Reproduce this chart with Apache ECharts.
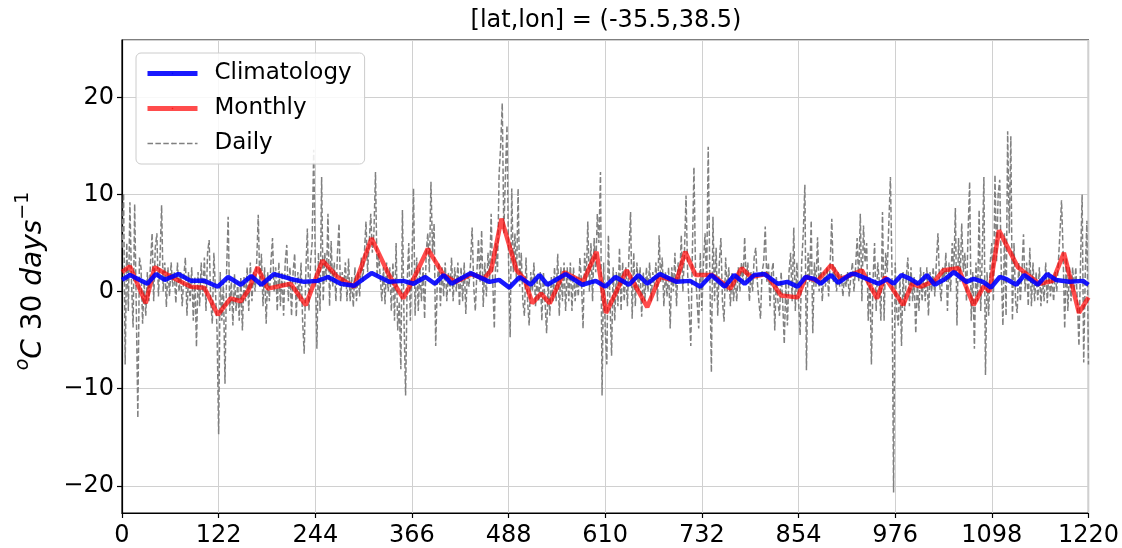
<!DOCTYPE html>
<html>
<head>
<meta charset="utf-8">
<script src="https://cdn.jsdelivr.net/npm/echarts@6/dist/echarts.min.js"></script>
<style>
html,body{margin:0;padding:0;background:#fff;}
#chart{width:1122px;height:548px;}
</style>
</head>
<body>
<div id="chart"></div>
<script>
// ---------- data ----------
const titleText = '[lat,lon] = (-35.5,38.5)';
const seriesNames = ['Climatology', 'Monthly', 'Daily'];
const xTicks = [0, 122, 244, 366, 488, 610, 732, 854, 976, 1098, 1220];

// Climatology: [day, value] vertices
const climDays = [0,10,32,43,54,71,87,104,121,134,150,163,176,192,213,230,247,260,276,293,315,337,355,368,383,395,406,416,440,464,476,489,502,516,527,537,560,581,598,610,623,640,652,663,679,700,717,730,744,761,773,786,798,811,828,840,853,863,874,882,895,904,920,926,955,966,974,984,995,1005,1016,1026,1039,1050,1066,1075,1087,1097,1108,1116,1129,1139,1156,1168,1179,1196,1213,1220];
const climValues = [1.2,1.7,0.8,1.8,1.2,1.8,1.1,1.1,0.5,1.5,0.7,1.6,0.7,1.8,1.3,1.0,1.1,1.5,0.8,0.6,1.9,1.0,1.1,0.8,1.5,0.8,1.7,0.8,1.9,1.0,1.2,0.4,1.5,0.7,1.7,0.7,1.8,0.7,1.1,0.5,1.5,0.7,1.7,0.8,1.8,1.0,1.1,0.5,1.7,0.5,1.7,0.8,1.7,1.8,0.8,1.0,0.5,1.5,1.3,0.8,1.7,0.9,1.8,1.8,0.8,1.3,0.8,1.7,1.3,0.8,1.7,0.7,1.3,2.0,1.0,1.3,1.0,0.4,1.5,1.3,0.7,1.7,0.7,1.8,1.2,1.0,1.1,0.7];

// Monthly: [day, value] vertices
const monthlyDays = [0,10,30,41,60,87,104,121,137,150,160,171,184,213,232,253,272,293,315,337,355,368,386,406,421,442,457,466,479,498,508,518,529,540,558,582,599,611,637,663,679,700,711,724,745,768,782,794,813,832,853,863,878,895,907,920,934,953,963,986,997,1008,1026,1037,1056,1075,1088,1095,1107,1131,1158,1175,1189,1208,1220];
const monthlyValues = [2.0,2.6,-1.2,2.5,1.6,0.5,0.4,-2.4,-0.7,-1.0,0.2,2.5,0.3,0.8,-1.4,3.2,1.5,0.5,5.5,1.7,-0.7,1.3,4.4,1.7,1.0,1.8,1.3,2.2,7.5,2.2,1.3,-1.2,-0.2,-1.2,2.0,1.0,4.1,-2.2,2.2,-1.6,1.5,1.1,4.1,1.7,1.7,0.3,2.4,1.5,1.8,-0.4,-0.6,1.5,1.1,2.7,1.3,1.7,2.2,-0.7,1.5,-1.4,0.8,0.5,1.1,2.2,2.4,-1.4,0.6,0.0,6.3,2.5,0.8,1.1,4.0,-2.2,-0.6];

// Daily: one value every dailyStep days starting at day 0 (20 values per row = 40 days)
const dailyStep = 2;
const dailyValues = [
  4.5,10.1,-7.5,5.0,-2.0,9.2,1.0,-3.7,9.0,-1.5,-13.0,3.5,2.5,-3.3,1.0,-2.5,2.0,-1.0,3.0,6.0,
  -1.0,4.5,6.0,-0.5,3.5,8.9,0.0,3.0,-1.6,2.5,-0.5,3.0,0.5,2.0,-1.2,3.0,0.0,2.0,-1.5,1.5,
  3.5,-2.5,2.0,-1.0,2.5,-3.0,1.5,-5.7,2.0,-1.5,3.0,-0.5,3.5,-2.0,4.0,5.3,-1.0,-3.3,4.0,0.0,
  -4.0,-14.7,2.0,-3.0,1.0,-9.5,2.0,7.7,-2.0,1.0,-3.5,1.8,-2.0,1.0,-3.0,1.5,-4.0,1.5,-1.0,2.5,
  -2.0,3.0,-1.0,2.0,0.0,3.0,7.9,0.5,3.9,-1.5,2.5,-3.3,2.0,-1.0,3.0,5.5,0.0,2.5,-2.0,3.0,
  -1.5,2.0,-2.5,3.0,4.8,-1.0,2.5,-2.5,2.0,3.9,-2.6,2.0,-1.0,3.0,-3.0,-6.4,2.0,6.5,-2.0,3.0,
  5.0,14.6,3.0,-5.9,4.0,-2.0,11.8,-1.0,4.0,1.0,8.0,-1.5,5.2,0.5,3.0,-1.0,4.0,7.0,-1.0,2.0,
  0.5,3.0,-1.0,3.4,-1.0,1.5,-1.6,2.5,-1.0,2.0,-0.5,3.5,1.0,4.0,7.2,2.0,5.0,8.0,4.0,6.0,
  12.3,1.5,4.0,3.8,-1.0,2.5,-1.3,3.0,0.0,2.5,-2.0,3.0,-3.0,5.0,-4.0,-1.0,-8.0,8.4,-3.0,-10.7,
  1.0,5.0,-3.0,3.0,10.6,-2.5,3.5,-2.0,2.5,-1.0,2.5,-2.8,4.0,6.0,2.0,11.3,4.0,7.0,-5.6,1.0,
  3.0,-1.5,2.5,-0.5,3.0,-1.0,2.0,0.0,3.5,-1.0,2.5,0.0,3.0,-1.5,2.5,-1.0,3.0,-2.3,2.0,0.5,
  3.0,6.6,0.5,-2.0,2.0,5.4,1.0,6.3,-1.6,3.0,-0.5,4.0,1.0,8.0,1.0,-3.8,5.0,2.0,12.0,15.0,
  19.4,6.0,12.0,17.1,3.0,-4.7,10.6,2.0,6.0,1.0,10.6,0.5,4.0,-1.0,-2.5,3.5,-1.0,-3.5,2.0,0.0,
  3.0,-1.5,1.5,-1.0,2.0,-3.0,2.0,-1.0,-4.3,1.0,-2.5,1.5,-1.0,2.5,-1.0,3.9,-2.5,2.5,-1.0,3.0,
  -2.0,2.5,-1.0,3.0,-2.0,2.5,-1.0,1.5,-0.5,3.5,1.0,-3.8,4.0,1.0,7.2,0.0,5.0,-1.0,5.5,2.0,
  8.0,5.0,12.3,-10.7,3.0,-4.0,-7.5,5.8,-1.0,-6.6,2.5,-3.0,2.0,-1.5,4.5,-2.0,3.0,-1.0,2.5,-1.5,
  4.0,8.2,-2.8,4.0,-1.5,3.0,0.0,2.5,-2.6,2.0,-1.0,2.5,0.0,3.0,-1.0,2.0,0.5,3.0,-1.0,5.8,
  1.0,3.5,-1.5,2.0,-0.5,2.5,-3.8,2.5,0.0,4.0,-1.5,3.0,1.0,5.8,0.0,4.0,9.9,2.0,-2.0,-5.6,
  4.0,12.8,2.0,-1.0,-3.8,4.0,-2.0,3.0,6.0,1.0,14.9,2.0,-8.3,7.7,-1.0,4.5,-2.5,3.0,5.5,-1.0,
  -3.1,3.5,0.0,2.5,-1.5,2.0,-1.0,1.5,-1.0,2.5,0.0,3.0,1.0,5.6,1.0,3.0,-1.0,2.0,0.0,3.5,
  4.5,1.0,-1.0,-2.8,2.0,3.0,6.7,1.0,3.0,-1.5,2.0,3.0,-4.0,1.5,-1.0,-2.5,2.0,-1.0,-5.4,1.0,
  -3.5,2.0,4.0,-1.0,6.6,-2.0,3.0,-1.0,-4.5,3.0,6.0,11.0,-8.1,4.0,1.0,7.3,-4.3,3.0,0.5,5.6,
  0.0,2.5,-1.0,2.0,0.5,2.5,-0.5,3.0,7.5,1.0,2.5,0.0,2.0,0.5,1.8,-0.5,1.5,0.5,2.0,-0.5,
  1.5,3.0,0.0,2.5,5.5,1.0,8.0,-1.0,6.8,3.0,5.0,-3.0,2.0,-7.5,1.0,5.0,-2.0,3.0,1.0,-3.0,
  8.2,-3.0,4.0,2.0,7.0,11.8,2.0,-20.7,3.0,-2.0,-3.5,1.5,-5.6,2.0,-2.0,1.5,3.5,-1.5,2.5,-1.0,
  1.5,-4.3,1.0,-2.0,2.5,-1.0,2.0,-1.0,2.5,-2.5,2.0,0.0,2.5,-0.5,3.0,6.0,1.0,-1.0,2.5,1.0,
  4.0,-2.0,3.0,0.0,5.0,2.0,8.6,-3.5,5.5,1.0,7.0,2.0,4.0,-1.0,6.0,11.3,-3.0,2.0,-5.9,3.0,
  -1.0,8.4,-2.0,4.0,11.8,-8.6,2.0,-2.5,3.0,5.0,-1.0,12.0,3.0,10.0,11.5,2.0,-3.5,6.0,-2.5,16.5,
  6.0,16.0,-3.0,5.0,-1.0,-2.2,3.0,-1.0,2.0,5.9,0.0,3.0,-1.5,4.5,-1.5,3.0,-1.0,2.0,-0.9,2.5,
  -1.5,1.5,-1.0,3.0,-1.2,2.0,-0.5,1.5,-1.0,2.0,0.0,3.0,6.0,9.4,4.0,-3.8,3.5,-2.0,2.5,-1.0,
  2.5,0.0,2.5,-1.0,-5.6,3.0,10.0,-7.3,2.0,7.3,-7.5
];

// ---------- build ----------
const FONT = 'DejaVu Sans';
const pairs = (xs, ys) => xs.map((x, i) => [x, ys[i]]);
const dailyData = dailyValues.map((v, i) => [i * dailyStep, v]);
const minusFmt = v => (v < 0 ? '\u2212' + Math.abs(v) : String(v));

const chart = echarts.init(document.getElementById('chart'), null, {renderer: 'canvas'});
chart.setOption({
  animation: false,
  backgroundColor: '#ffffff',
  grid: {left: 122, right: 32, top: 40, bottom: 35, show: true, borderColor: '#000', borderWidth: 1.2, backgroundColor: 'transparent'},
  xAxis: {
    type: 'value', min: 0, max: 1220, interval: 122,
    axisLine: {show: true, onZero: false, lineStyle: {color: '#000', width: 1.2}},
    axisTick: {show: true, length: 5, lineStyle: {color: '#000', width: 1.2}},
    axisLabel: {fontFamily: FONT, fontSize: 24, color: '#000', margin: 11, formatter: minusFmt},
    splitLine: {show: true, lineStyle: {color: '#d0d0d0', width: 1}}
  },
  yAxis: {
    type: 'value', min: -22.8, max: 25.9, splitNumber: 5,
    axisLine: {show: true, onZero: false, lineStyle: {color: '#000', width: 1.2}},
    axisTick: {show: true, length: 5, lineStyle: {color: '#000', width: 1.2}},
    axisLabel: {fontFamily: FONT, fontSize: 24, color: '#000', margin: 8, showMinLabel: false, showMaxLabel: false, formatter: minusFmt},
    splitLine: {show: true, lineStyle: {color: '#d0d0d0', width: 1}}
  },
  legend: {
    orient: 'vertical', left: 136, top: 53,
    data: [
      {name: seriesNames[0], lineStyle: {width: 5}},
      {name: seriesNames[1], lineStyle: {width: 5}},
      {name: seriesNames[2], lineStyle: {width: 1.5}}
    ],
    itemWidth: 50, itemHeight: 2, itemGap: 12,
    padding: [9, 13, 9, 9],
    backgroundColor: 'rgba(255,255,255,0.85)',
    borderColor: '#cccccc', borderWidth: 1, borderRadius: 5,
    textStyle: {fontFamily: FONT, fontSize: 23, color: '#000', padding: [0, 0, 0, 12]}
  },
  series: [
    {
      name: seriesNames[2], type: 'line', data: dailyData, symbol: 'none', showSymbol: false,
      lineStyle: {color: '#808080', width: 1.5, type: [5.5, 2.4]}, itemStyle: {color: '#808080'}, z: 2
    },
    {
      name: seriesNames[1], type: 'line', data: pairs(monthlyDays, monthlyValues), symbol: 'none', showSymbol: false,
      lineStyle: {color: '#ff0000', width: 4.5, opacity: 0.7}, itemStyle: {color: '#ff0000', opacity: 0.7}, z: 3
    },
    {
      name: seriesNames[0], type: 'line', data: pairs(climDays, climValues), symbol: 'none', showSymbol: false,
      lineStyle: {color: '#0000ff', width: 4.5, opacity: 0.9}, itemStyle: {color: '#0000ff', opacity: 0.9}, z: 4
    }
  ],
  graphic: [
    {
      type: 'text', x: 606, y: 21,
      style: {text: titleText, fontFamily: FONT, fontSize: 24, fill: '#000', align: 'center', verticalAlign: 'middle'}
    },
    {
      type: 'text', x: 31, y: 281, rotation: Math.PI / 2,
      style: {
        text: '{supi|o}{it|C }{n|30 }{it|days}{sup|\u22121}',
        align: 'center', verticalAlign: 'middle', fill: '#000',
        rich: {
          supi: {fontFamily: FONT, fontSize: 19, fontStyle: 'italic', verticalAlign: 'top', lineHeight: 34},
          sup: {fontFamily: FONT, fontSize: 19, verticalAlign: 'top', lineHeight: 34},
          it: {fontFamily: FONT, fontSize: 28, fontStyle: 'italic', verticalAlign: 'bottom', lineHeight: 34},
          n: {fontFamily: FONT, fontSize: 28, verticalAlign: 'bottom', lineHeight: 34}
        }
      }
    }
  ]
});
</script>
</body>
</html>
